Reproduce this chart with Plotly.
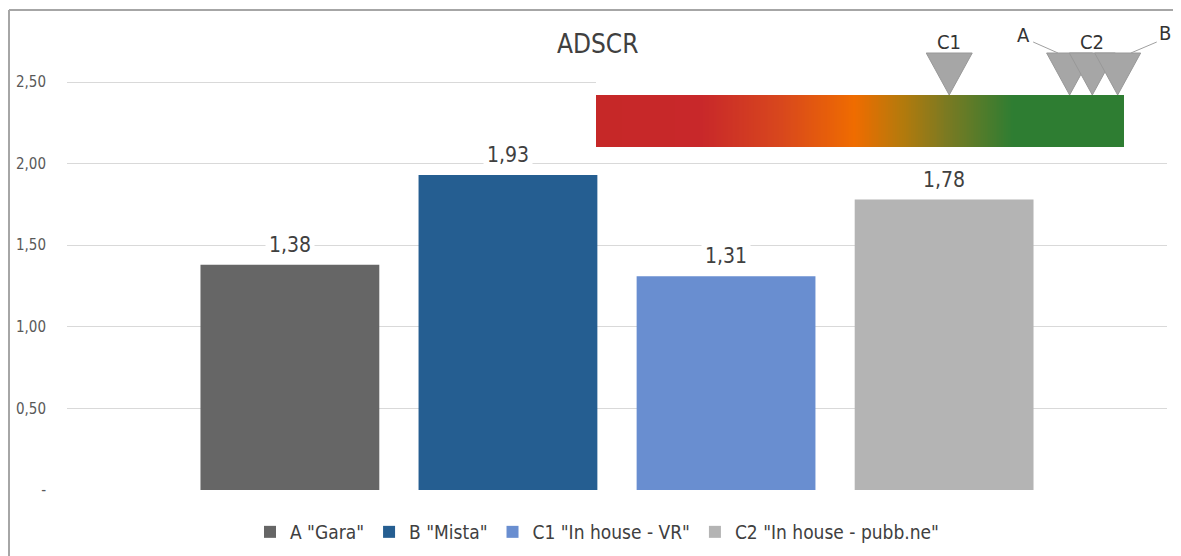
import plotly.graph_objects as go

# ---- data ----
category = ["ADSCR"]
series_names = ['A "Gara"', 'B "Mista"', 'C1 "In house - VR"', 'C2 "In house - pubb.ne"']
series_values = [1.38, 1.93, 1.31, 1.78]
series_labels = ["1,38", "1,93", "1,31", "1,78"]
series_colors = ["#666666", "#255E91", "#698ED0", "#B4B4B4"]

y_tickvals = [0, 0.5, 1.0, 1.5, 2.0, 2.5]
y_ticktext = ["-", "0,50", "1,00", "1,50", "2,00", "2,50"]

# gauge (red -> green scale) markers
gauge_labels = ["C1", "A", "C2", "B"]
gauge_pos = [0.669, 0.897, 0.94, 0.988]

FONT = "DejaVu Sans Condensed, Liberation Sans Narrow, Arial Narrow, sans-serif"
TXT = "#404040"

OFF = 8  # page body margin
W, H = 1181 - OFF, 556 - OFF
# targets in reference pixels, converted to figure pixels
def fx(p): return p - OFF
def fy(p): return p - OFF

ML = fx(67)
MR = W - fx(1167)
MT = fy(12)
MB = H - fy(490)
plot_h = H - MT - MB
plot_w = W - ML - MR
px_per_unit = 163.2
y_max = plot_h / px_per_unit

bargap, groupgap = 0.207, 0.18

fig = go.Figure()
for name, v, c in zip(series_names, series_values, series_colors):
    fig.add_trace(go.Bar(x=category, y=[v], name=name, marker_color=c,
                         marker_line_width=0, hoverinfo="skip"))

# data labels (white background over gridlines)
n = len(series_values)
slot = (1 - bargap) / n
for i, (v, lab) in enumerate(zip(series_values, series_labels)):
    xc = -0.5 + bargap / 2 + (i + 0.5) * slot
    fig.add_annotation(x=xc, y=v, xref="x", yref="y", text=lab, showarrow=False,
                       yanchor="bottom", yshift=4, bgcolor="white", borderpad=3,
                       font=dict(family=FONT, size=21, color=TXT))

# ---- gauge strip (secondary axes) ----
g_x0_px, g_x1_px = fx(596), fx(1124)
g_unit_px = g_x1_px - g_x0_px
x2_dom0 = (g_x0_px - ML) / plot_w
x2_range1 = (W - MR - g_x0_px) / g_unit_px
strip_bottom_px = fy(147)
y2_dom0 = (H - MB - strip_bottom_px) / plot_h
y2_range1 = strip_bottom_px - MT
strip_h = 52

N = 300
edges = [k / N for k in range(N + 1)]
zrow = [(k + 0.5) / N for k in range(N)]
fig.add_trace(go.Heatmap(
    x=edges, y=[0, strip_h], z=[zrow], xaxis="x2", yaxis="y2",
    zmin=0, zmax=1, showscale=False, hoverinfo="skip",
    colorscale=[[0, "#c62828"], [0.2, "#c8282a"], [0.35, "#d8471d"],
                [0.49, "#ef6c00"], [0.58, "#b47a0c"], [0.665, "#7a7a22"],
                [0.79, "#2e7d32"], [1, "#2e7d32"]],
))

tri_hw = 23 / g_unit_px
tri_top = strip_h + 42
tri_tip = strip_h
for p in gauge_pos:
    fig.add_trace(go.Scatter(
        x=[p - tri_hw, p + tri_hw, p, p - tri_hw], y=[tri_top, tri_top, tri_tip, tri_top],
        xaxis="x2", yaxis="y2", mode="lines", fill="toself",
        fillcolor="#a6a6a6", line=dict(color="#989898", width=1),
        showlegend=False, hoverinfo="skip"))

# gauge labels
lab_pos = {"C1": (gauge_pos[0], 105), "A": (0.81, 112), "C2": (gauge_pos[2], 105), "B": (1.078, 114)}
for lab in gauge_labels:
    x, y = lab_pos[lab]
    fig.add_annotation(x=x, y=y, xref="x2", yref="y2", text=lab, showarrow=False,
                       font=dict(family=FONT, size=20, color="#333333"))
# leader lines for A and B
fig.add_trace(go.Scatter(x=[0.828, 0.875], y=[105, 94], xaxis="x2", yaxis="y2", mode="lines",
                         line=dict(color="#a0a0a0", width=1), showlegend=False, hoverinfo="skip"))
fig.add_trace(go.Scatter(x=[1.062, 1.013], y=[105, 94], xaxis="x2", yaxis="y2", mode="lines",
                         line=dict(color="#a0a0a0", width=1), showlegend=False, hoverinfo="skip"))

# title
fig.add_annotation(x=(fx(597) - ML) / plot_w, y=(H - MB - fy(44)) / plot_h, xref="paper", yref="paper",
                   text="ADSCR", showarrow=False, yanchor="middle",
                   font=dict(family=FONT, size=26, color=TXT))

# outer chart border (left and top)
bx = (1 - ML) / plot_w
by = (H - MB - fy(10)) / plot_h
fig.add_shape(type="line", xref="paper", yref="paper", x0=bx, x1=bx, y0=by, y1=-0.2,
              line=dict(color="#a6a6a6", width=2))
fig.add_shape(type="line", xref="paper", yref="paper", x0=bx, x1=1.1, y0=by, y1=by,
              line=dict(color="#a6a6a6", width=2))

fig.update_layout(
    width=W, height=H,
    margin=dict(l=ML, r=MR, t=MT, b=MB),
    paper_bgcolor="white", plot_bgcolor="white",
    barmode="group", bargap=bargap, bargroupgap=groupgap,
    showlegend=True,
    legend=dict(orientation="h", x=(fx(597) - ML) / plot_w, xanchor="center",
                y=(H - MB - fy(532)) / plot_h, yanchor="middle",
                font=dict(family=FONT, size=19, color=TXT), itemwidth=30,
                traceorder="normal"),
    xaxis=dict(showticklabels=False, showgrid=False, zeroline=False, showline=False,
               fixedrange=True),
    yaxis=dict(range=[0, y_max], tickvals=y_tickvals, ticktext=y_ticktext,
               showgrid=True, gridcolor="#d9d9d9", gridwidth=1, zeroline=False,
               showline=False, ticks="", ticklabelstandoff=20,
               tickfont=dict(family=FONT, size=15, color="#595959")),
    xaxis2=dict(domain=[x2_dom0, 1.0], range=[0, x2_range1], anchor="y2", visible=False,
                fixedrange=True),
    yaxis2=dict(domain=[y2_dom0, 1.0], range=[0, y2_range1], anchor="x2", visible=False,
                fixedrange=True),
)

fig.write_html("out.html")
